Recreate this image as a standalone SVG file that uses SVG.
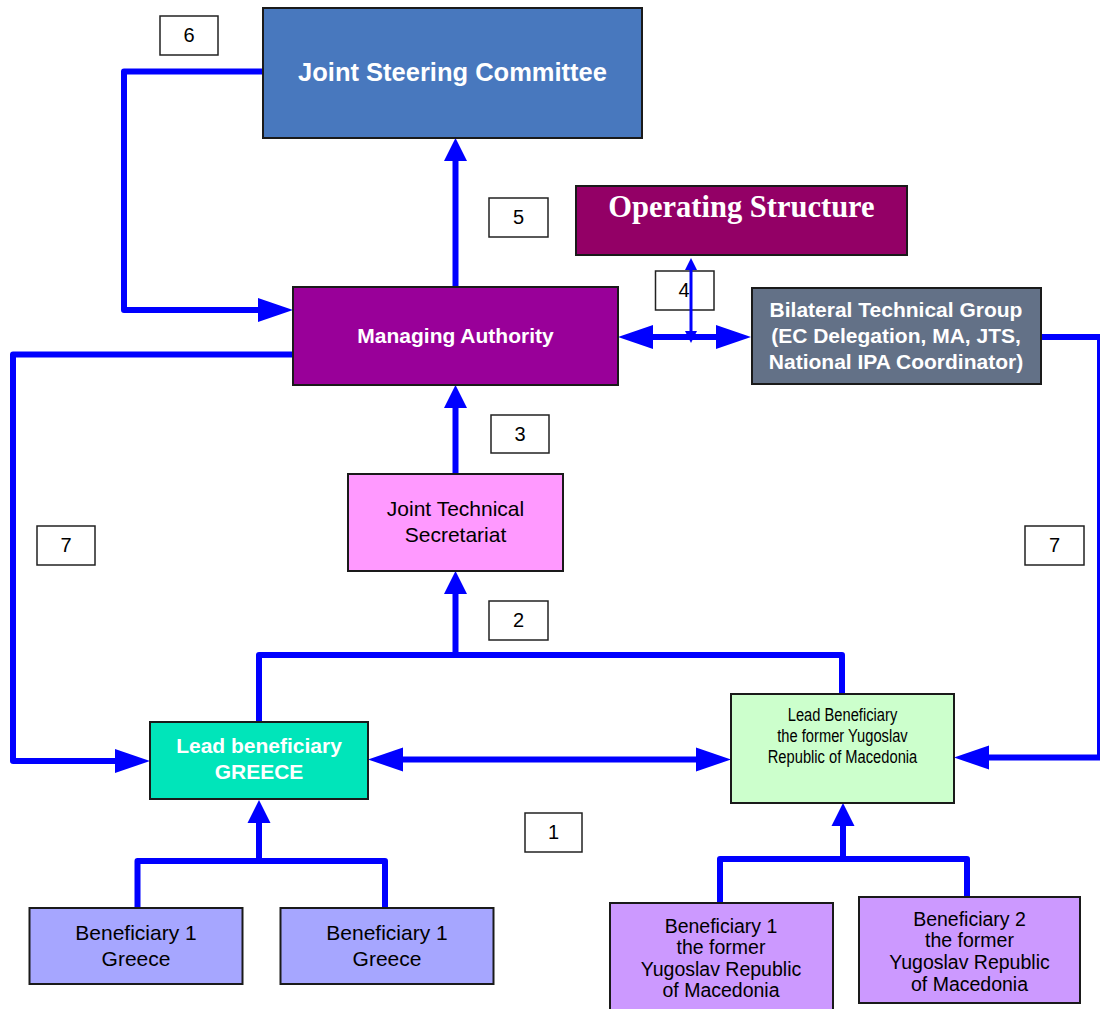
<svg xmlns="http://www.w3.org/2000/svg" width="1100" height="1009" viewBox="0 0 1100 1009">
<style>
.node{stroke:#1a1a1a;stroke-width:2}
.num rect{fill:#fff;stroke:#222;stroke-width:1.5}
.num text{font-family:"Liberation Sans",Arial,sans-serif;font-size:20px;fill:#000;text-anchor:middle}
.t{font-family:"Liberation Sans",Arial,sans-serif;text-anchor:middle}
.wb{fill:#fff;font-weight:bold;font-size:21px}
.bk{fill:#000}
.c{fill:none;stroke:#0000ff;stroke-width:6;stroke-linejoin:round}
</style>
<defs>
<marker id="ah" markerUnits="userSpaceOnUse" markerWidth="35" markerHeight="24" viewBox="0 0 35 24" refX="0" refY="12" orient="auto-start-reverse" overflow="visible"><path d="M0,0 L35,12 L0,24 Z" fill="#0000ff"/></marker>
<marker id="av" markerUnits="userSpaceOnUse" markerWidth="23" markerHeight="23" viewBox="0 0 23 23" refX="0" refY="11.5" orient="auto-start-reverse" overflow="visible"><path d="M0,0 L23,11.5 L0,23 Z" fill="#0000ff"/></marker>
<marker id="as" markerUnits="userSpaceOnUse" markerWidth="12" markerHeight="12" viewBox="0 0 12 12" refX="0" refY="6" orient="auto-start-reverse" overflow="visible"><path d="M0,0 L12,6 L0,12 Z" fill="#0000ff"/></marker>
</defs>
<rect width="1100" height="1009" fill="#fff"/>

<g id="n4" class="num"><rect x="655.5" y="271" width="58.5" height="39"/><text x="684" y="297">4</text></g>

<g id="connectors">
<path class="c" d="M263,71.5 H124 V310 H258" marker-end="url(#ah)"/>
<path class="c" d="M455.5,287 V161" marker-end="url(#av)"/>
<path class="c" d="M455.5,474 V408" marker-end="url(#av)"/>
<path class="c" d="M259,722 V655 H842 V694"/>
<path class="c" d="M455.5,655 V594" marker-end="url(#av)"/>
<path class="c" d="M293,354.5 H13 V761 H115" marker-end="url(#ah)"/>
<path class="c" d="M403,759.5 H696" marker-start="url(#ah)" marker-end="url(#ah)"/>
<path class="c" d="M653,337 H716" marker-start="url(#ah)" marker-end="url(#ah)"/>
<path fill="none" stroke="#0000ff" stroke-width="3" d="M691,270 V331" marker-start="url(#as)" marker-end="url(#as)"/>
<path class="c" d="M1040,337 H1099" stroke-linecap="round"/>
<path fill="none" stroke="#0000ff" stroke-width="3" d="M1098.5,337 V757.5"/>
<path class="c" d="M1100,757.5 H989" marker-end="url(#ah)"/>
<path class="c" d="M137.5,908 V861 H385 V908"/>
<path class="c" d="M259,861 V823" marker-end="url(#av)"/>
<path class="c" d="M720,903 V859 H967 V897"/>
<path class="c" d="M843,859 V826" marker-end="url(#av)"/>
</g>

<g id="jsc"><rect class="node" x="263" y="8" width="379" height="130" fill="#4878be"/><text class="t" x="452.5" y="81" fill="#fff" font-weight="bold" font-size="25.5">Joint Steering Committee</text></g>
<g id="os"><rect class="node" x="576" y="186" width="331" height="69" fill="#930066"/><text x="741.5" y="217" fill="#fff" font-family="'Liberation Serif','Times New Roman',serif" font-weight="bold" font-size="30.5" text-anchor="middle">Operating Structure</text></g>
<g id="ma"><rect class="node" x="293" y="287" width="325" height="98" fill="#990099"/><text class="t wb" x="455.5" y="343">Managing Authority</text></g>
<g id="btg"><rect class="node" x="752" y="288" width="289" height="96" fill="#637187"/><text class="t wb"><tspan x="896" y="317">Bilateral Technical Group</tspan><tspan x="896" y="343">(EC Delegation, MA, JTS,</tspan><tspan x="896" y="369">National IPA Coordinator)</tspan></text></g>
<g id="jts"><rect class="node" x="348" y="474" width="215" height="97" fill="#ff99ff"/><text class="t bk" font-size="21"><tspan x="455.5" y="516">Joint Technical</tspan><tspan x="455.5" y="542">Secretariat</tspan></text></g>
<g id="lead-gr"><rect class="node" x="150" y="722" width="218" height="77" fill="#00e5ba"/><text class="t wb"><tspan x="259" y="753">Lead beneficiary</tspan><tspan x="259" y="779">GREECE</tspan></text></g>
<g id="lead-mk"><rect class="node" x="731" y="694" width="223" height="109" fill="#ccffcc"/><text class="t bk" font-size="17.5" transform="translate(842.5,0) scale(0.84,1)"><tspan x="0" y="721">Lead Beneficiary</tspan><tspan x="0" y="742">the former Yugoslav</tspan><tspan x="0" y="763">Republic of Macedonia</tspan></text></g>
<g id="ben-gr1"><rect class="node" x="29.5" y="908" width="213" height="76" fill="#a6a6ff"/><text class="t bk" font-size="21"><tspan x="136" y="940">Beneficiary 1</tspan><tspan x="136" y="966">Greece</tspan></text></g>
<g id="ben-gr2"><rect class="node" x="280.5" y="908" width="213" height="76" fill="#a6a6ff"/><text class="t bk" font-size="21"><tspan x="387" y="940">Beneficiary 1</tspan><tspan x="387" y="966">Greece</tspan></text></g>
<g id="ben-mk1"><rect class="node" x="610" y="903" width="223" height="112" fill="#cc99ff"/><text class="t bk" font-size="19.5"><tspan x="721" y="933">Beneficiary 1</tspan><tspan x="721" y="954">the former</tspan><tspan x="721" y="976">Yugoslav Republic</tspan><tspan x="721" y="997">of Macedonia</tspan></text></g>
<g id="ben-mk2"><rect class="node" x="859" y="897" width="221" height="106" fill="#cc99ff"/><text class="t bk" font-size="19.5"><tspan x="969.5" y="926">Beneficiary 2</tspan><tspan x="969.5" y="947">the former</tspan><tspan x="969.5" y="969">Yugoslav Republic</tspan><tspan x="969.5" y="991">of Macedonia</tspan></text></g>

<g id="n6" class="num"><rect x="160" y="16" width="58" height="39"/><text x="189" y="42">6</text></g>
<g id="n5" class="num"><rect x="489" y="198" width="59" height="39"/><text x="518.5" y="224">5</text></g>
<g id="n3" class="num"><rect x="491" y="415" width="58" height="38"/><text x="520" y="441">3</text></g>
<g id="n2" class="num"><rect x="489" y="601" width="59" height="39"/><text x="518.5" y="627">2</text></g>
<g id="n7a" class="num"><rect x="37" y="526" width="58" height="39"/><text x="66" y="552">7</text></g>
<g id="n7b" class="num"><rect x="1025" y="526" width="59" height="39"/><text x="1054.5" y="552">7</text></g>
<g id="n1" class="num"><rect x="525" y="813" width="57" height="39"/><text x="553.5" y="839">1</text></g>
</svg>
